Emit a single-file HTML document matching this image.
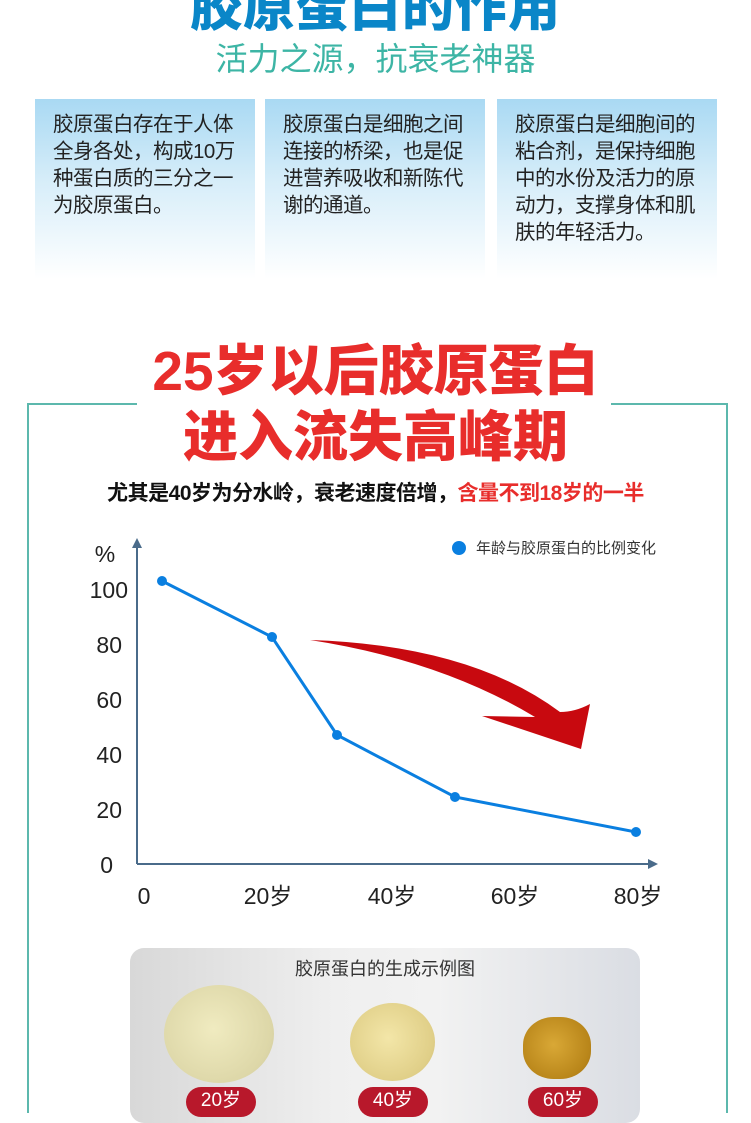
<!DOCTYPE html>
<html><head><meta charset="utf-8"><style>
body{margin:0;width:751px;height:1113px;overflow:hidden;background:#fff;position:relative;font-family:"Liberation Sans","Noto Sans CJK SC",sans-serif}
.a{position:absolute;white-space:nowrap}
.box{position:absolute;top:99px;height:180px;width:220px;background:linear-gradient(#a9d9f3 0%,#d6edf9 45%,#fff 100%);box-sizing:border-box;padding:12px 0 0 18px;font-size:20.5px;line-height:27px;color:#222;white-space:nowrap;letter-spacing:-0.5px}
</style></head><body>
<div class="a" style="left:0;width:751px;text-align:center;top:-34px;font-size:52px;font-weight:900;color:#0a86c8;letter-spacing:1px">胶原蛋白的作用</div>
<div class="a" style="left:0;width:751px;text-align:center;top:34px;font-size:32px;color:#3db5a5">活力之源，抗衰老神器</div>
<div class="box" style="left:35px">胶原蛋白存在于人体<br>全身各处，构成10万<br>种蛋白质的三分之一<br>为胶原蛋白。</div>
<div class="box" style="left:265px">胶原蛋白是细胞之间<br>连接的桥梁，也是促<br>进营养吸收和新陈代<br>谢的通道。</div>
<div class="box" style="left:497px">胶原蛋白是细胞间的<br>粘合剂，是保持细胞<br>中的水份及活力的原<br>动力，支撑身体和肌<br>肤的年轻活力。</div>

<div class="a" style="left:28px;top:403px;width:109px;height:2px;background:#5cb8ad"></div>
<div class="a" style="left:611px;top:403px;width:117px;height:2px;background:#5cb8ad"></div>
<div class="a" style="left:27px;top:403px;width:2px;height:710px;background:#5cb8ad"></div>
<div class="a" style="left:726px;top:403px;width:2px;height:710px;background:#5cb8ad"></div>

<div class="a" style="left:0;width:751px;text-align:center;top:338px;font-size:55px;font-weight:900;color:#e82d2b;line-height:66px">25岁以后胶原蛋白</div>
<div class="a" style="left:0;width:751px;text-align:center;top:404px;font-size:55px;font-weight:900;color:#e82d2b;line-height:66px">进入流失高峰期</div>
<div class="a" style="left:0;width:751px;text-align:center;top:477px;font-size:21px;font-weight:bold;color:#111;letter-spacing:-0.5px">尤其是40岁为分水岭，衰老速度倍增，<span style="color:#e82d2b">含量不到18岁的一半</span></div>

<svg class="a" style="left:0;top:0" width="751" height="1113">
<g font-family="Liberation Sans,Noto Sans CJK SC,sans-serif" font-size="23" fill="#222">
<text x="105" y="562" text-anchor="middle">%</text>
<text x="128" y="598" text-anchor="end">100</text>
<text x="122" y="653" text-anchor="end">80</text>
<text x="122" y="708" text-anchor="end">60</text>
<text x="122" y="763" text-anchor="end">40</text>
<text x="122" y="818" text-anchor="end">20</text>
<text x="113" y="873" text-anchor="end">0</text>
<text x="144" y="904" text-anchor="middle">0</text>
<text x="268" y="904" text-anchor="middle">20岁</text>
<text x="392" y="904" text-anchor="middle">40岁</text>
<text x="515" y="904" text-anchor="middle">60岁</text>
<text x="638" y="904" text-anchor="middle">80岁</text>
</g>
<line x1="137" y1="864" x2="137" y2="546" stroke="#4a6b8a" stroke-width="2"/>
<polygon points="132,548 137,538 142,548" fill="#4a6b8a"/>
<line x1="137" y1="864" x2="650" y2="864" stroke="#4a6b8a" stroke-width="2"/>
<polygon points="648,859 658,864 648,869" fill="#4a6b8a"/>
<circle cx="459" cy="548" r="7" fill="#0a7fe0"/>
<text x="476" y="553" font-size="15" fill="#333" font-family="Liberation Sans,Noto Sans CJK SC,sans-serif">年龄与胶原蛋白的比例变化</text>
<path d="M310,640 Q470,645 560,712 Q575,712 590,704 L581,749 L482,716 L535,717 Q440,660 310,640Z" fill="#c8090f"/>
<polyline points="162,581 272,637 337,735 455,797 636,832" fill="none" stroke="#0a7fe0" stroke-width="3"/>
<g fill="#0a7fe0"><circle cx="162" cy="581" r="5"/><circle cx="272" cy="637" r="5"/><circle cx="337" cy="735" r="5"/><circle cx="455" cy="797" r="5"/><circle cx="636" cy="832" r="5"/></g>
</svg>

<div class="a" style="left:130px;top:948px;width:510px;height:175px;border-radius:14px;background:linear-gradient(90deg,#d8d8d8,#efefef 40%,#f2f2f2 60%,#dadde3)"></div>
<div class="a" style="left:130px;width:510px;text-align:center;top:955px;font-size:18px;color:#333">胶原蛋白的生成示例图</div>
<div class="a" style="left:164px;top:985px;width:110px;height:98px;border-radius:50%;background:radial-gradient(circle at 45% 45%,#f0ebc0,#ddd7a8 70%,#c9c39a)"></div>
<div class="a" style="left:350px;top:1003px;width:85px;height:78px;border-radius:50%;background:radial-gradient(circle at 45% 45%,#f3e6a8,#e0cf88 70%,#c8b477)"></div>
<div class="a" style="left:523px;top:1017px;width:68px;height:62px;border-radius:45%;background:radial-gradient(circle at 45% 45%,#d9a836,#b9861a 70%,#9a6d14)"></div>
<div class="a" style="left:186px;top:1087px;width:70px;height:30px;border-radius:15px;background:#b8182b;color:#fff;font-size:19px;text-align:center;line-height:28px">20岁</div>
<div class="a" style="left:358px;top:1087px;width:70px;height:30px;border-radius:15px;background:#b8182b;color:#fff;font-size:19px;text-align:center;line-height:28px">40岁</div>
<div class="a" style="left:528px;top:1087px;width:70px;height:30px;border-radius:15px;background:#b8182b;color:#fff;font-size:19px;text-align:center;line-height:28px">60岁</div>
</body></html>
